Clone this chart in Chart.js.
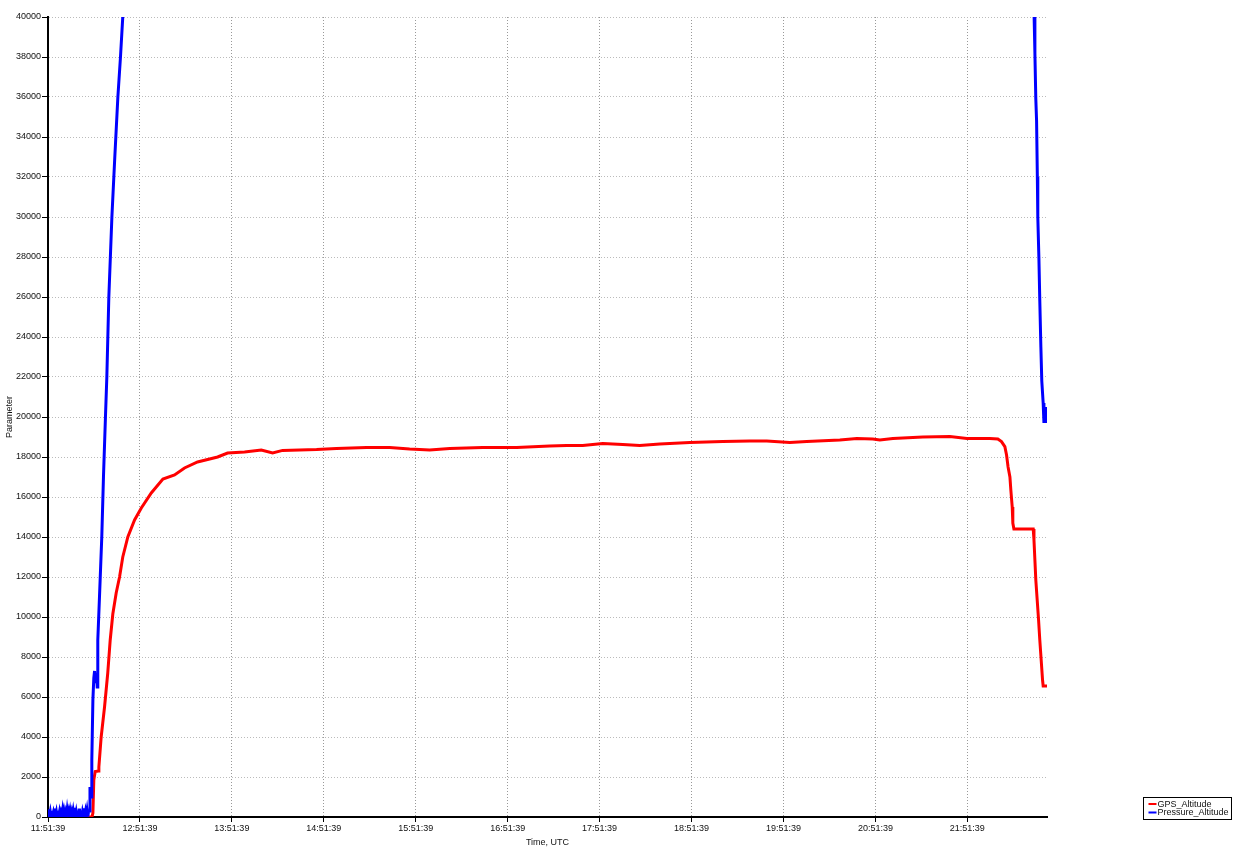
<!DOCTYPE html>
<html>
<head>
<meta charset="utf-8">
<title>GPS / Pressure altitude</title>
<script src="https://cdn.jsdelivr.net/npm/chart.js@4.4.0/dist/chart.umd.min.js"></script>
<style>
  html, body { margin: 0; padding: 0; background: #fff; }
  #wrap { width: 1238px; height: 849px; }
</style>
</head>
<body>
<div id="wrap"><canvas id="altChart" width="1238" height="849"></canvas></div>
<script>
// temps en minutes depuis 11:51:39 UTC
const startSeconds = 11 * 3600 + 51 * 60 + 39;
const xMax = 652;

const seriesLabels = ['GPS_Altitude', 'Pressure_Altitude'];
const seriesColors = ['#ff0000', '#0000ff'];

const gpsTime = [0, 28.7, 29.3, 29.9, 30.8, 33.0, 33.2, 34.7, 36.9, 39.0, 40.6, 42.3, 44.5, 46.7, 48.8, 52.1,
  56.5, 60.9, 67.4, 75.0, 82.6, 89.1, 97.6, 110.7, 117.2, 128.3, 139.2, 146.6, 153.1, 175.3, 188.3, 207.9,
  223.0, 236.0, 249.1, 262.2, 283.7, 305.9, 327.4, 338.5, 349.0, 362.1, 375.1, 386.2, 399.3, 418.9, 440.4,
  458.0, 469.1, 484.1, 495.2, 516.8, 527.9, 538.3, 542.9, 551.4, 571.0, 588.6, 599.7, 614.7, 619.9, 622.3,
  624.5, 625.6, 626.6, 627.8, 628.4, 629.3, 629.7, 630.4, 643.0, 643.5, 644.1, 644.7, 645.6, 646.5, 647.3,
  648.2, 649.1, 649.5, 652];
const gpsAlt = [0, 0, 200, 1850, 2270, 2300, 2500, 4000, 5500, 7200, 8850, 10150, 11200, 12000, 13000, 14000,
  14850, 15450, 16200, 16900, 17100, 17450, 17750, 18000, 18200, 18250, 18350, 18200, 18330, 18370, 18430, 18480,
  18480, 18400, 18350, 18430, 18470, 18480, 18550, 18580, 18580, 18680, 18630, 18580, 18650, 18720, 18780,
  18800, 18800, 18730, 18780, 18850, 18930, 18900, 18850, 18920, 19000, 19020, 18930, 18930, 18900, 18770,
  18520, 18100, 17500, 17000, 16350, 15500, 14700, 14400, 14400, 13850, 12850, 11850, 10850, 9850, 8850,
  7850, 6850, 6550, 6550];

const pressTime = [0, 0.5, 1, 1.5, 2, 2.5, 3, 3.5, 4, 4.5, 5, 5.5, 6, 6.5, 7, 7.5, 8, 8.5, 9, 9.5, 10, 10.5,
  11, 11.5, 12, 12.5, 13, 13.5, 14, 14.5, 15, 15.5, 16, 16.5, 17, 17.5, 18, 18.5, 19, 19.5, 20, 20.5, 21, 21.5,
  22, 22.5, 23, 23.5, 24, 24.5, 25, 25.5, 26, 26.5,
  27.1, 27.4, 28.2, 28.6, 29.3, 29.9, 30.4, 31.0, 31.7, 32.1, 32.5, 33.6, 35.1, 36.2, 37.5, 38.4, 39.7, 41.7,
  43.6, 45.6, 47.3, 48.8, 49.9, 300,
  643.1, 643.6, 644.1, 644.7, 645.2, 645.7, 646.0, 646.7, 647.3, 648.0, 648.6, 649.5, 650.0, 650.4, 650.8,
  651.3, 651.8, 652.2];
const pressAlt = [40, 380, 60, 260, 20, 300, 90, 240, 30, 420, 60, 250, 10, 310, 80, 270, 40, 220, 70, 330,
  20, 280, 60, 240, 30, 350, 70, 260, 20, 290, 50, 240, 30, 300, 60, 460, 20, 260, 50, 280, 30, 420, 40, 300,
  10, 250, 60, 430, 30, 270, 50, 320, 20, 280,
  300, 1500, 1000, 2850, 5850, 6950, 7300, 6700, 7200, 6500, 8850, 11000, 14000, 17000, 20000, 22000, 26000, 30000,
  33000, 36000, 38000, 40000, 41500, null,
  42500, 40000, 38200, 35900, 34800, 32000, 30000, 28000, 25800, 23500, 21800, 20700, 19700, 20400, 19800,
  20500, 19700, 20300];

const yMax = 40000;
const yStep = 2000;
const xStep = 60;

function toPoints(xs, ys) {
  return xs.map((x, i) => ({ x: x, y: ys[i] }));
}

function fmtTime(mins) {
  let s = Math.round(startSeconds + mins * 60) % 86400;
  const h = Math.floor(s / 3600);
  const m = Math.floor((s % 3600) / 60);
  const sec = s % 60;
  return h + ':' + String(m).padStart(2, '0') + ':' + String(sec).padStart(2, '0');
}

Chart.defaults.font.family = '"Liberation Sans", Arial, sans-serif';
Chart.defaults.font.size = 9;
Chart.defaults.color = '#111';

// légende dessinée à la main (boîte en bas à droite)
const boxLegend = {
  id: 'boxLegend',
  afterDraw(chart) {
    const c = chart.ctx;
    const x0 = 1143.5, y0 = 797.5, w = 88, h = 22;
    c.save();
    c.fillStyle = '#fff';
    c.fillRect(x0, y0, w, h);
    c.strokeStyle = '#000';
    c.lineWidth = 1;
    c.strokeRect(x0, y0, w, h);
    c.font = '9px "Liberation Sans", Arial, sans-serif';
    c.textBaseline = 'middle';
    seriesLabels.forEach((lab, i) => {
      const yy = y0 + 6.5 + i * 8.5;
      c.strokeStyle = seriesColors[i];
      c.lineWidth = 2;
      c.beginPath();
      c.moveTo(x0 + 5, yy);
      c.lineTo(x0 + 13, yy);
      c.stroke();
      c.fillStyle = '#111';
      c.fillText(lab, x0 + 14, yy + 0.5);
    });
    c.restore();
  }
};

const ctx = document.getElementById('altChart').getContext('2d');
const altChart = new Chart(ctx, {
  type: 'line',
  data: {
    datasets: [
      {
        label: seriesLabels[0],
        data: toPoints(gpsTime, gpsAlt),
        borderColor: seriesColors[0],
        borderWidth: 3,
        pointRadius: 0,
        tension: 0,
        order: 2
      },
      {
        label: seriesLabels[1],
        data: toPoints(pressTime, pressAlt),
        borderColor: seriesColors[1],
        borderWidth: 3,
        pointRadius: 0,
        tension: 0,
        spanGaps: false,
        order: 1
      }
    ]
  },
  options: {
    responsive: false,
    animation: false,
    parsing: false,
    layout: { padding: { top: 17, right: 191, bottom: 0, left: 0 } },
    plugins: {
      legend: { display: false },
      tooltip: { enabled: false }
    },
    scales: {
      x: {
        type: 'linear',
        min: 0,
        max: xMax,
        afterFit: (s) => { s.height = 32; },
        ticks: {
          stepSize: xStep,
          includeBounds: false,
          maxRotation: 0,
          autoSkip: false,
          padding: 1,
          callback: (v) => fmtTime(v)
        },
        grid: {
          color: '#999',
          tickColor: '#000',
          tickLength: 5,
          lineWidth: 1
        },
        border: { color: '#000', width: 2, dash: [1, 2] },
        title: { display: true, text: 'Time, UTC', padding: { top: 0, bottom: 1 } }
      },
      y: {
        min: 0,
        max: yMax,
        afterFit: (s) => { s.width = 48; },
        ticks: { stepSize: yStep, padding: 1, autoSkip: false, callback: (v) => String(v) },
        grid: {
          color: '#bbb',
          tickColor: '#000',
          tickLength: 6,
          lineWidth: 1
        },
        border: { color: '#000', width: 2, dash: [1, 2] },
        title: { display: true, text: 'Parameter', padding: { top: 4, bottom: 0 } }
      }
    }
  },
  plugins: [boxLegend]
});
</script>
</body>
</html>
